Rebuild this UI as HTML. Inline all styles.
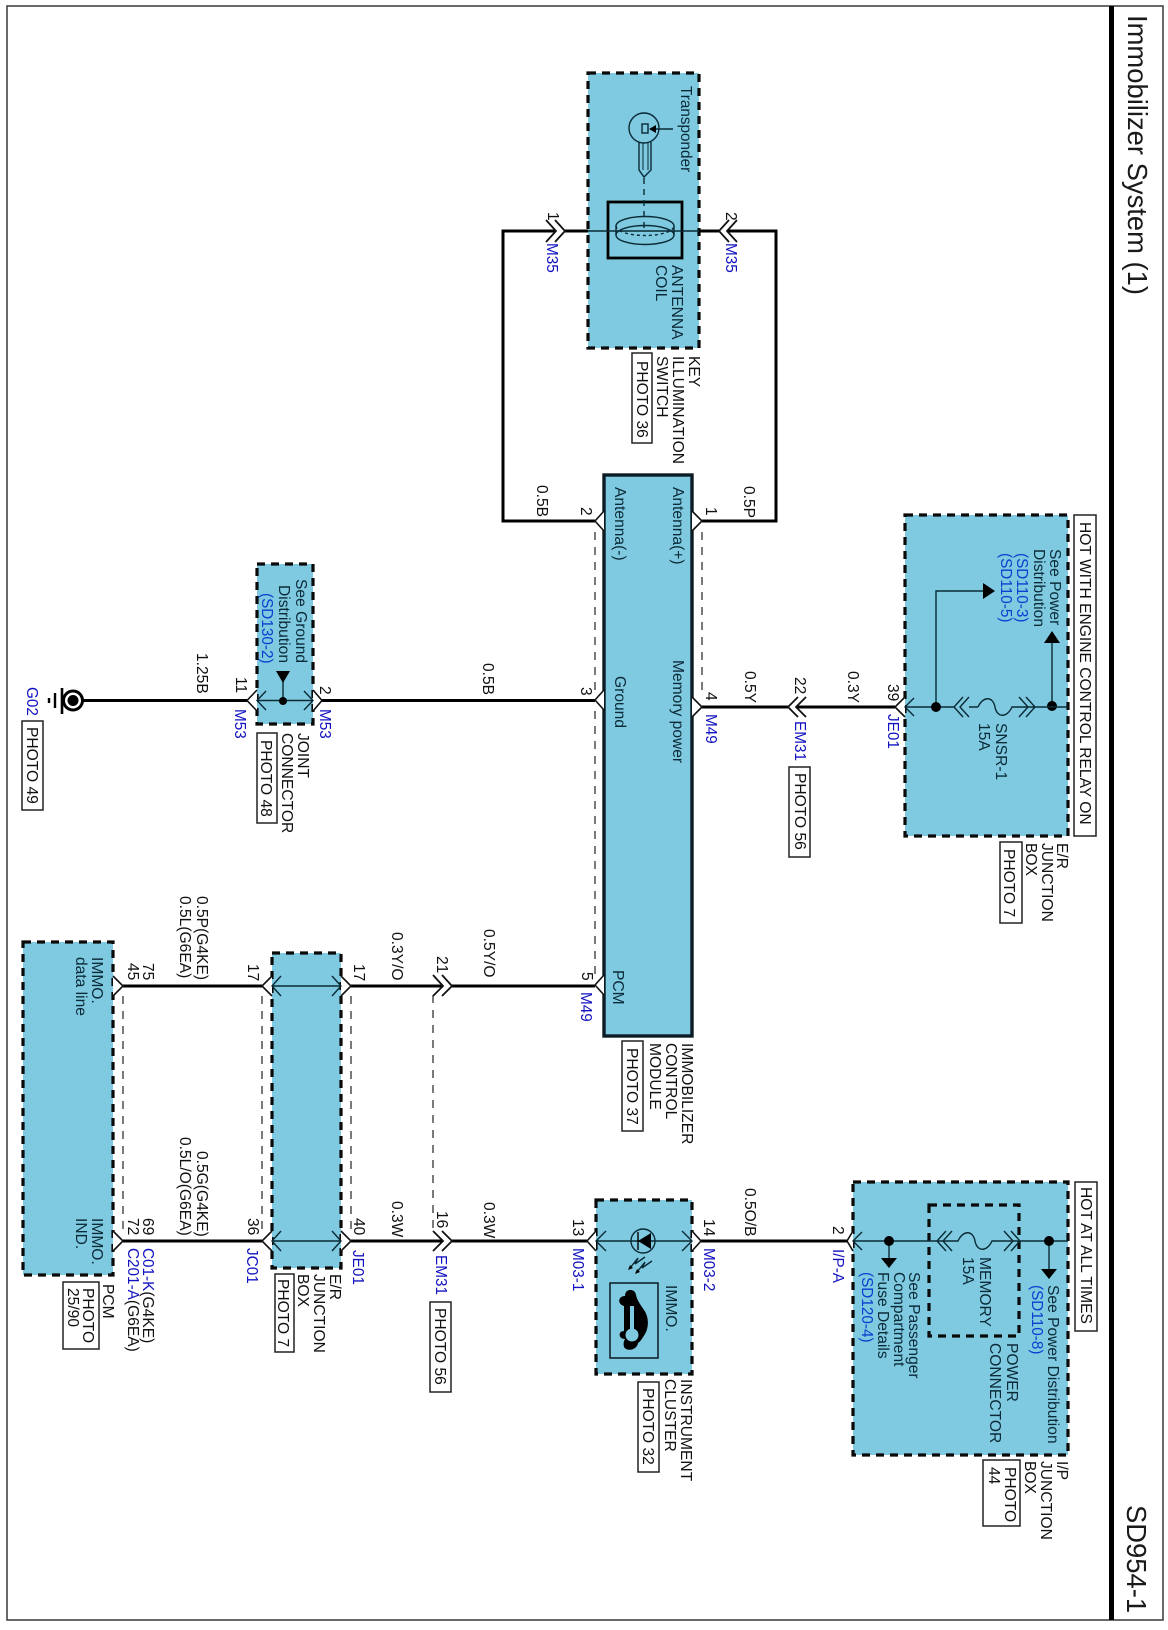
<!DOCTYPE html>
<html>
<head>
<meta charset="utf-8">
<style>
html,body{margin:0;padding:0;background:#fff;width:1168px;height:1630px;overflow:hidden}
svg{display:block}
text{font-family:"Liberation Sans",Arial,sans-serif;font-size:15.6px;fill:#111}
.b{fill:#1212c0;font-size:15.3px}
.c{fill:#0a3fd0;font-size:15.3px}
.n{fill:#0b2a38}
.big{font-size:27.4px;fill:#1a1a1a}
.box{fill:#7fcae0;stroke:#0a0a0a;stroke-width:3.2;stroke-dasharray:8 6}
.ph{fill:#fff;stroke:#222;stroke-width:1.5}
.w{fill:none;stroke:#000;stroke-width:3}
.t{fill:none;stroke:#0a2a36;stroke-width:1.4}
.d{fill:none;stroke:#222;stroke-width:1.2;stroke-dasharray:8 7}
.p{fill:#fff;stroke:#111;stroke-width:1.6}
.k{fill:#000;stroke:none}
</style>
</head>
<body>
<svg width="1168" height="1630" viewBox="0 0 1168 1630" xmlns="http://www.w3.org/2000/svg">
<rect x="0" y="0" width="1168" height="1630" fill="#fff"/>
<rect x="7" y="6" width="1156" height="1614" fill="none" stroke="#444" stroke-width="1.6"/>
<rect x="1109" y="6" width="5" height="1614" fill="#000"/>
<text class="big" transform="translate(1128 15) rotate(90)">Immobilizer System (1)</text>
<text class="big" transform="translate(1127 1505) rotate(90)">SD954-1</text>

<!-- component bodies -->
<rect class="box" x="588" y="73" width="111" height="275"/>
<rect x="604" y="475" width="88" height="561" fill="#7fcae0" stroke="#0c1c24" stroke-width="3.4"/>
<rect class="box" x="257" y="564" width="56" height="160"/>
<rect class="box" x="905" y="515" width="163" height="321"/>
<rect class="box" x="23" y="942" width="90" height="333"/>
<rect class="box" x="272" y="953" width="69" height="315"/>
<rect class="box" x="596" y="1200" width="96" height="174"/>
<rect class="box" x="853" y="1182" width="215" height="273"/>
<rect class="box" style="fill:none" x="929" y="1205" width="90" height="131"/>

<!-- thick wires -->
<path class="w" d="M556 231H503V521H595"/>
<path class="w" d="M565 231H588"/>
<path class="w" d="M699 231H719"/>
<path class="w" d="M727 231H776V521H702"/>
<path class="w" d="M83 700.5H247"/>
<path class="w" d="M322 700.5H595"/>
<path class="w" d="M702 707H788"/>
<path class="w" d="M796 707H895"/>
<path class="w" d="M123 986H262"/>
<path class="w" d="M351 986H443"/>
<path class="w" d="M452 986H595"/>
<path class="w" d="M123 1241H262"/>
<path class="w" d="M351 1241H443"/>
<path class="w" d="M452 1241H587"/>
<path class="w" d="M701 1241H847"/>

<!-- dashed shield lines -->
<path class="d" d="M702 532V696"/>
<path class="d" d="M595 532V690"/>
<path class="d" d="M595 711V975"/>
<path class="d" d="M123 996V1231"/>
<path class="d" d="M262 996V1231"/>
<path class="d" d="M351 996V1231"/>
<path class="d" d="M433 995V1231"/>

<!-- module / component pins -->
<path class="p" d="M692 511L702 521L692 531"/>
<path class="p" d="M604 511L595 521L604 531"/>
<path class="p" d="M604 690L595 700L604 710"/>
<path class="p" d="M692 697L702 707L692 717"/>
<path class="p" d="M604 975L595 985L604 995"/>
<path class="p" d="M257 690L247 700.5L257 711"/>
<path class="p" d="M313 690L322 700.5L313 711"/>
<path class="p" d="M905 697L895 707L905 717"/>
<path class="p" d="M113 976L123 986L113 996"/>
<path class="p" d="M113 1231L123 1241L113 1251"/>
<path class="p" d="M272 976L262 986L272 996"/>
<path class="p" d="M272 1231L262 1241L272 1251"/>
<path class="p" d="M341 976L351 986L341 996"/>
<path class="p" d="M341 1231L351 1241L341 1251"/>
<path class="p" d="M596 1231L587 1241L596 1251"/>
<path class="p" d="M692 1231L701 1241L692 1251"/>
<path class="p" d="M853 1231L847 1241L853 1251"/>

<!-- inline double chevrons -->
<g fill="none" stroke="#111" stroke-width="1.8">
<path d="M546 220L556 231L546 242M555 220L565 231L555 242"/>
<path d="M729 220L719 231L729 242M737 220L727 231L737 242"/>
<path d="M798 697L788 707L798 717M806 697L796 707L806 717"/>
<path d="M433 975L443 986L433 996M442 975L452 986L442 996"/>
<path d="M433 1231L443 1241L433 1251M442 1231L452 1241L442 1251"/>
</g>

<!-- inner thin connector arrows -->
<path class="t" d="M266 691L257 700.5L266 710M257 700.5H313M304 691L313 700.5L304 710"/>
<path class="t" d="M281 976L272 986L281 996M272 986H341M332 976L341 986L332 996"/>
<path class="t" d="M281 1231L272 1241L281 1251M272 1241H341M332 1231L341 1241L332 1251"/>
<path class="t" d="M606 1231L596 1241L606 1251M596 1241H692M682 1231L692 1241L682 1251"/>
<path class="t" d="M914 698L905 707L914 716M905 707H954M969 707H978"/>
<path class="t" d="M862 1232L853 1241L862 1250M853 1241H937"/>

<!-- antenna switch internals -->
<rect x="608" y="202" width="74" height="56" fill="none" stroke="#000" stroke-width="2.8"/>
<path class="t" d="M588 231H699"/>
<ellipse class="t" cx="645" cy="235" rx="29" ry="9.5"/>
<path class="t" d="M616 226A29 9.5 0 0 1 674 226"/>
<path class="t" stroke-dasharray="3 3" d="M616 226A29 9.5 0 0 0 674 226"/>
<path class="t" d="M616 226V235M674 226V235"/>
<path class="t" stroke-dasharray="6 5" d="M644 178V231"/>
<path class="t" d="M639 142V170L644 177L651 170V142"/>
<path class="t" style="stroke-width:1" d="M643 143V170M648 143V170"/>
<circle class="t" cx="644" cy="128" r="15"/>
<rect class="t" x="642" y="124" width="6" height="9"/>
<path class="t" d="M673 129H653"/>
<path class="k" d="M649 129L656 125V133Z"/>

<!-- joint -->
<path class="t" d="M283 678V701"/>
<path class="k" d="M276 671H290L283 683Z"/>
<circle class="k" cx="283" cy="701" r="4"/>

<!-- ground -->
<circle cx="73" cy="700.5" r="9.5" fill="#fff" stroke="#000" stroke-width="3"/>
<circle class="k" cx="73" cy="700.5" r="5.5"/>
<path d="M62 688V714" stroke="#000" stroke-width="2.6"/>
<path d="M55 693V708" stroke="#000" stroke-width="2.4"/>
<path d="M49 698V703" stroke="#000" stroke-width="2.4"/>

<!-- E/R top internals -->
<path class="t" d="M936 707V591H985"/>
<path class="k" d="M983 583L995 591L983 599Z"/>
<path class="t" d="M1052 707V641"/>
<path class="k" d="M1044 643L1052 631L1060 643Z"/>
<circle class="k" cx="936" cy="707" r="5"/>
<circle class="k" cx="1052" cy="706" r="5"/>
<path class="t" d="M963 697L954 707L963 717M969 697L960 707L969 717"/>
<path class="t" d="M978 707C983 696 993 696 995 707C997 718 1007 718 1012 707H1035"/>
<path class="t" d="M1019 697L1028 707L1019 717M1026 697L1035 707L1026 717"/>
<path class="t" d="M1035 707H1068"/>

<!-- I/P internals -->
<path class="t" d="M937 1241H958C963 1230 973 1230 975 1241C977 1252 987 1252 992 1241H1068"/>
<path class="t" d="M946 1231L937 1241L946 1251M952 1231L943 1241L952 1251"/>
<path class="t" d="M1004 1231L1013 1241L1004 1251M1011 1231L1020 1241L1011 1251"/>
<path class="t" d="M889 1241V1260"/>
<path class="k" d="M881 1258H897L889 1268Z"/>
<path class="t" d="M1049 1241V1271"/>
<path class="k" d="M1041 1269H1057L1049 1279Z"/>
<circle class="k" cx="889" cy="1241" r="5"/>
<circle class="k" cx="1049" cy="1241" r="5"/>

<!-- cluster internals -->
<circle class="t" cx="643" cy="1241" r="12"/>
<path class="k" d="M638 1241L651 1233V1249Z"/>
<path d="M638 1232V1250" stroke="#000" stroke-width="1.4"/>
<path class="t" d="M645 1257L635 1264L638 1258L630 1268M652 1261L642 1268L645 1262L637 1272"/>
<path class="k" d="M628 1270L633 1268L630 1265ZM635 1274L640 1272L637 1269Z"/>
<rect x="610" y="1283" width="48" height="75" fill="none" stroke="#0a1a22" stroke-width="1.5"/>
<path class="k" d="M624 1306C617 1304 618 1296 625 1296C625 1288 635 1288 636 1295C637 1300 640 1304 644 1310C649 1317 649 1327 645 1334C642 1339 640 1342 638 1343C637 1350 627 1352 624 1347C623 1343 624 1341 625 1339C618 1339 618 1331 624 1331Z"/>
<circle cx="632" cy="1335" r="6.5" fill="#7fcae0"/>
<rect x="630" y="1306" width="4" height="26" fill="#7fcae0"/>

<!-- photo boxes -->
<rect class="ph" x="632" y="353" width="20" height="90"/>
<rect class="ph" x="22" y="721" width="21" height="89"/>
<rect class="ph" x="257" y="733" width="20" height="90"/>
<rect class="ph" x="789" y="767" width="21" height="90"/>
<rect class="ph" x="1000" y="842" width="22" height="81"/>
<rect class="ph" x="1074" y="515" width="22" height="321"/>
<rect class="ph" x="622" y="1041" width="21" height="90"/>
<rect class="ph" x="63" y="1282" width="36" height="67"/>
<rect class="ph" x="275" y="1274" width="19" height="78"/>
<rect class="ph" x="430" y="1302" width="21" height="90"/>
<rect class="ph" x="638" y="1382" width="21" height="90"/>
<rect class="ph" x="1075" y="1182" width="22" height="149"/>
<rect class="ph" x="983" y="1460" width="37" height="66"/>

<!-- key switch labels -->
<text class="n" style="font-size:15.3px" transform="translate(681 86) rotate(90)">Transponder</text>
<text class="n" transform="translate(672 265) rotate(90)">ANTENNA</text>
<text class="n" transform="translate(656 265) rotate(90)">COIL</text>
<text transform="translate(689 356) rotate(90)">KEY</text>
<text transform="translate(673 356) rotate(90)">ILLUMINATION</text>
<text transform="translate(657 356) rotate(90)">SWITCH</text>
<text transform="translate(637 361) rotate(90)">PHOTO 36</text>
<text class="b" transform="translate(547 243) rotate(90)">M35</text>
<text class="b" transform="translate(726 243) rotate(90)">M35</text>
<text transform="translate(548 212) rotate(90)">1</text>
<text transform="translate(726 212) rotate(90)">2</text>
<text transform="translate(537 485) rotate(90)">0.5B</text>
<text transform="translate(744 486) rotate(90)">0.5P</text>

<!-- module labels -->
<text transform="translate(581 507) rotate(90)">2</text>
<text transform="translate(706 507) rotate(90)">1</text>
<text class="n" transform="translate(615 487) rotate(90)">Antenna(-)</text>
<text class="n" transform="translate(673 487) rotate(90)">Antenna(+)</text>
<text class="n" transform="translate(673 660) rotate(90)">Memory power</text>
<text class="n" transform="translate(615 676) rotate(90)">Ground</text>
<text transform="translate(706 692) rotate(90)">4</text>
<text class="b" transform="translate(706 714) rotate(90)">M49</text>
<text transform="translate(581 687) rotate(90)">3</text>
<text transform="translate(483 663) rotate(90)">0.5B</text>
<text transform="translate(582 972) rotate(90)">5</text>
<text class="b" transform="translate(581 992) rotate(90)">M49</text>
<text class="n" transform="translate(613 970) rotate(90)">PCM</text>
<text transform="translate(682 1043) rotate(90)">IMMOBILIZER</text>
<text transform="translate(666 1043) rotate(90)">CONTROL</text>
<text transform="translate(650 1043) rotate(90)">MODULE</text>
<text transform="translate(627 1048) rotate(90)">PHOTO 37</text>

<!-- E/R top labels -->
<text transform="translate(745 671) rotate(90)">0.5Y</text>
<text transform="translate(795 677) rotate(90)">22</text>
<text class="b" transform="translate(795 721) rotate(90)">EM31</text>
<text transform="translate(795 773) rotate(90)">PHOTO 56</text>
<text transform="translate(848 671) rotate(90)">0.3Y</text>
<text transform="translate(888 684) rotate(90)">39</text>
<text class="b" transform="translate(888 714) rotate(90)">JE01</text>
<text class="n" transform="translate(996 723) rotate(90)">SNSR-1</text>
<text class="n" transform="translate(979 723) rotate(90)">15A</text>
<text class="n" transform="translate(1050 549) rotate(90)">See Power</text>
<text class="n" transform="translate(1034 549) rotate(90)">Distribution</text>
<text class="c" transform="translate(1017 553) rotate(90)">(SD110-3)</text>
<text class="c" transform="translate(1001 553) rotate(90)">(SD110-5)</text>
<text transform="translate(1080 522) rotate(90)">HOT WITH ENGINE CONTROL RELAY ON</text>
<text transform="translate(1057 843) rotate(90)">E/R</text>
<text transform="translate(1042 843) rotate(90)">JUNCTION</text>
<text transform="translate(1026 843) rotate(90)">BOX</text>
<text transform="translate(1004 849) rotate(90)">PHOTO 7</text>

<!-- joint labels -->
<text class="n" transform="translate(296 579) rotate(90)">See Ground</text>
<text class="n" transform="translate(279 585) rotate(90)">Distribution</text>
<text class="c" transform="translate(262 593) rotate(90)">(SD130-2)</text>
<text transform="translate(197 653) rotate(90)">1.25B</text>
<text transform="translate(236 677) rotate(90)">11</text>
<text class="b" transform="translate(235 709) rotate(90)">M53</text>
<text transform="translate(320 686) rotate(90)">2</text>
<text class="b" transform="translate(320 709) rotate(90)">M53</text>
<text transform="translate(298 733) rotate(90)">JOINT</text>
<text transform="translate(282 733) rotate(90)">CONNECTOR</text>
<text transform="translate(261 740) rotate(90)">PHOTO 48</text>
<text class="b" transform="translate(27 687) rotate(90)">G02</text>
<text transform="translate(27 727) rotate(90)">PHOTO 49</text>

<!-- PCM and lower labels -->
<text class="n" transform="translate(92 957) rotate(90)">IMMO.</text>
<text class="n" transform="translate(76 957) rotate(90)">data line</text>
<text class="n" transform="translate(92 1218) rotate(90)">IMMO.</text>
<text class="n" transform="translate(76 1218) rotate(90)">IND.</text>
<text transform="translate(143 963) rotate(90)">75</text>
<text transform="translate(128 963) rotate(90)">45</text>
<text transform="translate(143 1218) rotate(90)">69</text>
<text transform="translate(128 1218) rotate(90)">72</text>
<text transform="translate(197 896) rotate(90)">0.5P(G4KE)</text>
<text transform="translate(180 896) rotate(90)">0.5L(G6EA)</text>
<text transform="translate(197 1151) rotate(90)">0.5G(G4KE)</text>
<text transform="translate(180 1137) rotate(90)">0.5L/O(G6EA)</text>
<text transform="translate(248 964) rotate(90)">17</text>
<text transform="translate(248 1218) rotate(90)">36</text>
<text transform="translate(354 964) rotate(90)">17</text>
<text transform="translate(354 1218) rotate(90)">40</text>
<text transform="translate(392 932) rotate(90)">0.3Y/O</text>
<text transform="translate(392 1201) rotate(90)">0.3W</text>
<text transform="translate(437 956) rotate(90)">21</text>
<text transform="translate(437 1211) rotate(90)">16</text>
<text transform="translate(484 929) rotate(90)">0.5Y/O</text>
<text transform="translate(143 1248) rotate(90)"><tspan class="b">C01-K</tspan>(G4KE)</text>
<text transform="translate(128 1248) rotate(90)"><tspan class="b">C201-A</tspan>(G6EA)</text>
<text class="b" transform="translate(247 1248) rotate(90)">JC01</text>
<text class="b" transform="translate(353 1250) rotate(90)">JE01</text>
<text class="b" transform="translate(436 1255) rotate(90)">EM31</text>
<text transform="translate(103 1284) rotate(90)">PCM</text>
<text transform="translate(83 1288) rotate(90)">PHOTO</text>
<text transform="translate(68 1288) rotate(90)">25/90</text>
<text transform="translate(330 1274) rotate(90)">E/R</text>
<text transform="translate(314 1274) rotate(90)">JUNCTION</text>
<text transform="translate(298 1274) rotate(90)">BOX</text>
<text transform="translate(278 1279) rotate(90)">PHOTO 7</text>
<text transform="translate(435 1308) rotate(90)">PHOTO 56</text>

<!-- cluster labels -->
<text transform="translate(484 1202) rotate(90)">0.3W</text>
<text transform="translate(573 1219) rotate(90)">13</text>
<text class="b" transform="translate(573 1248) rotate(90)">M03-1</text>
<text transform="translate(704 1219) rotate(90)">14</text>
<text class="b" transform="translate(704 1248) rotate(90)">M03-2</text>
<text class="n" transform="translate(666 1285) rotate(90)">IMMO.</text>
<text transform="translate(681 1379) rotate(90)">INSTRUMENT</text>
<text transform="translate(665 1379) rotate(90)">CLUSTER</text>
<text transform="translate(643 1388) rotate(90)">PHOTO 32</text>

<!-- I/P labels -->
<text transform="translate(745 1188) rotate(90)">0.5O/B</text>
<text transform="translate(833 1226) rotate(90)">2</text>
<text class="b" transform="translate(833 1249) rotate(90)">I/P-A</text>
<text class="n" transform="translate(980 1257) rotate(90)">MEMORY</text>
<text class="n" transform="translate(963 1257) rotate(90)">15A</text>
<text class="n" transform="translate(1007 1343) rotate(90)">POWER</text>
<text class="n" transform="translate(990 1343) rotate(90)">CONNECTOR</text>
<text class="n" transform="translate(1048 1285) rotate(90)">See Power Distribution</text>
<text class="c" transform="translate(1032 1285) rotate(90)">(SD110-8)</text>
<text class="n" transform="translate(909 1272) rotate(90)">See Passenger</text>
<text class="n" transform="translate(894 1272) rotate(90)">Compartment</text>
<text class="n" transform="translate(878 1272) rotate(90)">Fuse Details</text>
<text class="c" transform="translate(862 1272) rotate(90)">(SD120-4)</text>
<text transform="translate(1081 1187) rotate(90)">HOT AT ALL TIMES</text>
<text transform="translate(1057 1461) rotate(90)">I/P</text>
<text transform="translate(1041 1461) rotate(90)">JUNCTION</text>
<text transform="translate(1025 1461) rotate(90)">BOX</text>
<text transform="translate(1005 1467) rotate(90)">PHOTO</text>
<text transform="translate(989 1467) rotate(90)">44</text>
</svg>
</body>
</html>
